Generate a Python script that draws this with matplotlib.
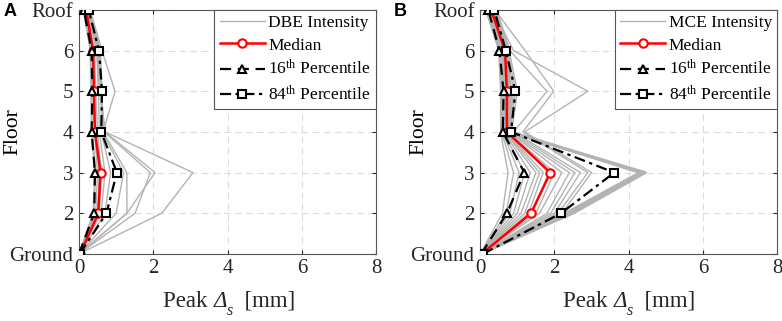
import matplotlib
matplotlib.use("Agg")
import matplotlib.pyplot as plt

plt.rcParams['font.family'] = ['Liberation Serif', 'DejaVu Serif']
plt.rcParams['mathtext.fontset'] = 'custom'
plt.rcParams['mathtext.rm'] = 'Liberation Serif'
plt.rcParams['mathtext.it'] = 'Liberation Serif:italic'

# floors: Ground, 2, 3, 4, 5, 6, Roof
floors = [1, 2, 3, 4, 5, 6, 7]
floor_labels = ['Ground', '2', '3', '4', '5', '6', 'Roof']

# DBE records (peak drift per floor, mm)
dbe_records = [
    [0.00, 0.38, 0.42, 0.34, 0.32, 0.30, 0.12],
    [0.00, 0.40, 0.45, 0.36, 0.34, 0.32, 0.13],
    [0.00, 0.45, 0.50, 0.42, 0.40, 0.36, 0.16],
    [0.00, 0.50, 0.55, 0.45, 0.42, 0.38, 0.18],
    [0.00, 0.55, 0.60, 0.50, 0.45, 0.42, 0.20],
    [0.00, 0.60, 0.70, 0.55, 0.52, 0.48, 0.22],
    [0.02, 0.70, 0.85, 0.60, 0.60, 0.55, 0.26],
    [0.00, 1.00, 1.20, 0.62, 0.62, 0.58, 0.28],
    [0.00, 1.29, 1.29, 0.65, 0.97, 0.62, 0.30],
    [0.00, 1.51, 1.92, 0.68, 0.60, 0.52, 0.25],
    [0.00, 1.29, 2.05, 0.70, 0.58, 0.50, 0.24],
    [0.00, 2.23, 3.07, 0.70, 0.55, 0.48, 0.22],
]
dbe_median = [0.03, 0.52, 0.58, 0.43, 0.40, 0.38, 0.19]
dbe_p16 = [0.00, 0.41, 0.43, 0.34, 0.36, 0.34, 0.13]
dbe_p84 = [0.02, 0.74, 1.02, 0.60, 0.62, 0.54, 0.26]

# MCE records (peak drift per floor, mm)
mce_records = [
    [0.00, 0.60, 0.75, 0.55, 0.55, 0.50, 0.15],
    [0.00, 0.70, 0.90, 0.58, 0.58, 0.52, 0.18],
    [0.00, 0.80, 1.05, 0.60, 0.60, 0.55, 0.20],
    [0.00, 0.90, 1.20, 0.62, 0.62, 0.58, 0.22],
    [0.00, 1.00, 1.35, 0.64, 0.65, 0.60, 0.25],
    [0.00, 1.10, 1.50, 0.66, 0.68, 0.62, 0.28],
    [0.00, 1.20, 1.60, 0.68, 0.70, 0.64, 0.30],
    [0.00, 1.30, 1.70, 0.70, 0.75, 0.66, 0.32],
    [0.00, 1.40, 1.85, 0.72, 0.80, 0.68, 0.34],
    [0.00, 1.50, 2.00, 0.75, 0.85, 0.70, 0.36],
    [0.00, 1.60, 2.20, 0.78, 0.90, 0.72, 0.38],
    [0.00, 1.80, 2.40, 0.80, 0.95, 0.75, 0.40],
    [0.00, 1.90, 2.55, 0.85, 1.00, 0.78, 0.42],
    [0.00, 2.00, 2.70, 0.90, 1.80, 0.80, 0.45],
    [0.00, 2.10, 2.90, 1.15, 1.98, 1.21, 0.40],
    [0.00, 2.20, 3.00, 1.20, 2.90, 0.90, 0.35],
    [0.00, 2.30, 4.30, 0.85, 0.80, 0.70, 0.30],
    [0.00, 2.40, 4.40, 0.80, 0.75, 0.68, 0.28],
    [0.00, 2.50, 4.45, 0.78, 0.72, 0.65, 0.26],
]
mce_median = [0.04, 1.37, 1.89, 0.72, 0.72, 0.67, 0.30]
mce_p16 = [0.03, 0.72, 1.19, 0.61, 0.63, 0.52, 0.22]
mce_p84 = [0.07, 2.18, 3.61, 0.83, 0.95, 0.69, 0.38]

fig = plt.figure(figsize=(7.82, 3.21), dpi=100)
ax_a = fig.add_axes([0.101, 0.209, 0.380, 0.760])
ax_b = fig.add_axes([0.614, 0.209, 0.380, 0.760])

panels = [
    (ax_a, 'A', 'DBE Intensity', dbe_records, dbe_median, dbe_p16, dbe_p84, -0.19, 0.283),
    (ax_b, 'B', 'MCE Intensity', mce_records, mce_median, mce_p16, mce_p84, -0.175, 0.279),
]

for ax, tag, rec_label, records, med, p16, p84, ylab_x, xlab_x in panels:
    for i, rec in enumerate(records):
        lw = 2.0 if (tag == 'B' and i >= len(records) - 3) else 1.0
        ax.plot(rec, floors, color='#b3b3b3', lw=lw, zorder=2,
                label=rec_label if i == 0 else None)
    ax.plot(med, floors, color='#ff0000', lw=1.8, marker='o', ms=6,
            mfc='white', mec='#ff0000', mew=1.5, label='Median', zorder=3)
    ax.plot(p16, floors, color='black', lw=1.6, ls=(0, (5, 3)), marker='^', ms=6,
            mfc='white', mec='black', mew=1.5,
            label='16$^{\\mathrm{th}}$ Percentile', zorder=4)
    ax.plot(p84, floors, color='black', lw=1.6, ls=(0, (5, 2, 1.5, 2)), marker='s', ms=6,
            mfc='white', mec='black', mew=1.5,
            label='84$^{\\mathrm{th}}$ Percentile', zorder=5)

    ax.set_xlim(0, 8)
    ax.set_ylim(1, 7)
    ax.set_xticks([0, 2, 4, 6, 8])
    ax.set_yticks(floors)
    ax.set_yticklabels(floor_labels)
    ax.tick_params(direction='in', length=3, labelsize=15, colors='#262626',
                   top=True, right=True, labeltop=False, labelright=False, pad=4)
    ax.grid(True, ls=(0, (6, 4)), color='#dcdcdc', lw=0.8)
    ax.set_axisbelow(True)
    for sp in ax.spines.values():
        sp.set_color('#555555')
        sp.set_linewidth(0.8)
    ax.set_ylabel('Floor', fontsize=15.5)
    ax.yaxis.set_label_coords(ylab_x, 0.5)

    # x label: Peak (italic Delta with subscript s) [mm]
    t1 = ax.text(xlab_x, -0.217, 'Peak ', transform=ax.transAxes,
                 fontsize=16.5, ha='left', va='baseline', color='#262626')
    t2 = ax.annotate('Δ', xy=(1, 0), xycoords=t1, fontsize=16.5,
                     style='italic', ha='left', va='bottom', color='#262626')
    t3 = ax.annotate('s', xy=(1, 0), xycoords=t2, xytext=(0, -5),
                     textcoords='offset points', fontsize=11.5, style='italic',
                     ha='left', va='bottom', color='#262626')
    ax.annotate('  [mm]', xy=(1, 0), xycoords=(t3, t2), fontsize=16.5,
                ha='left', va='bottom', color='#262626')

    leg = ax.legend(loc='upper right', fontsize=12.5, handlelength=2.6,
                    handletextpad=0.2, borderpad=0.3, labelspacing=0.35,
                    fancybox=False, framealpha=1, borderaxespad=0)
    leg.get_frame().set_edgecolor('#555555')
    leg.get_frame().set_linewidth(0.8)

fig.text(0.004, 0.965, 'A', fontsize=13, fontweight='bold',
         family='Liberation Sans', va='center', ha='left')
fig.text(0.503, 0.965, 'B', fontsize=13, fontweight='bold',
         family='Liberation Sans', va='center', ha='left')

fig.savefig('out.png', dpi=100)
